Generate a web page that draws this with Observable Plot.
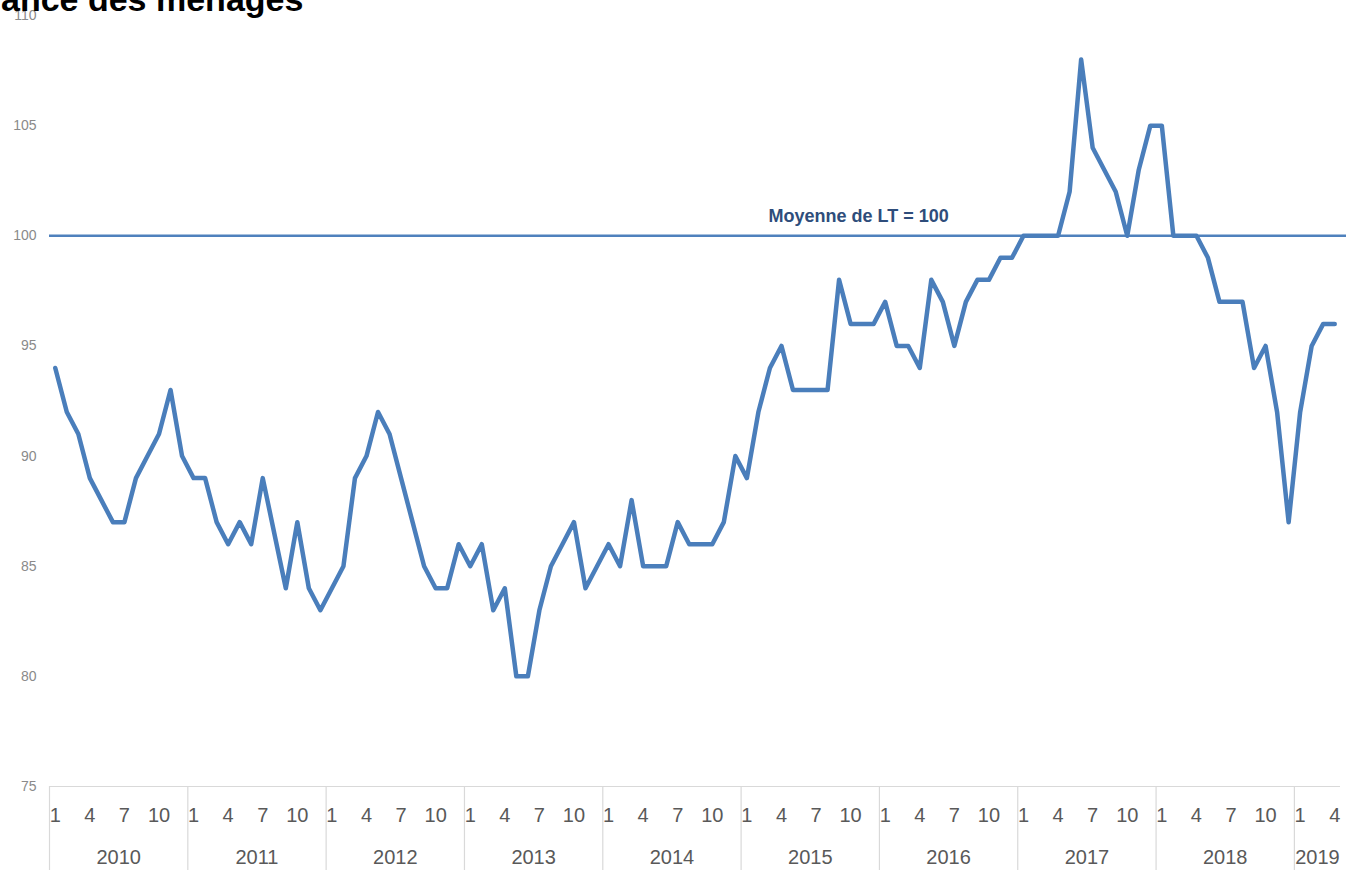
<!DOCTYPE html>
<html><head><meta charset="utf-8">
<script src="https://cdn.jsdelivr.net/npm/d3@7"></script>
<script src="https://cdn.jsdelivr.net/npm/@observablehq/plot@0.6"></script>
<style>
body{margin:0;background:#fff;overflow:hidden}
#wrap{position:relative;width:1346px;height:870px;overflow:hidden}
#title{position:absolute;left:1px;top:-18px;font:bold 34px "Liberation Sans",Arial,sans-serif;color:#000;line-height:34px;white-space:nowrap}
</style></head><body>
<div id="wrap"><div id="chart"></div><div id="title">ance des ménages</div></div>
<script>
// ---- data ----
const years = [2010, 2011, 2012, 2013, 2014, 2015, 2016, 2017, 2018, 2019];
const v2010 = [94, 92, 91, 89, 88, 87, 87, 89, 90, 91, 93, 90];
const v2011 = [89, 89, 87, 86, 87, 86, 89, 86.5, 84, 87, 84, 83];
const v2012 = [84, 85, 89, 90, 92, 91, 89, 87, 85, 84, 84, 86];
const v2013 = [85, 86, 83, 84, 80, 80, 83, 85, 86, 87, 84, 85];
const v2014 = [86, 85, 88, 85, 85, 85, 87, 86, 86, 86, 87, 90];
const v2015 = [89, 92, 94, 95, 93, 93, 93, 93, 98, 96, 96, 96];
const v2016 = [97, 95, 95, 94, 98, 97, 95, 97, 98, 98, 99, 99];
const v2017 = [100, 100, 100, 100, 102, 108, 104, 103, 102, 100, 103, 105];
const v2018 = [105, 100, 100, 100, 99, 97, 97, 97, 94, 95, 92, 87];
const v2019 = [92, 95, 96, 96];
const monthTickLabels = [1, 4, 7, 10];
const yTicks = [75, 80, 85, 90, 95, 100, 105, 110];
const average = 100;
const averageLabel = "Moyenne de LT = 100";
const titleText = "ance des ménages";

// ---- build tables ----
const series = [v2010, v2011, v2012, v2013, v2014, v2015, v2016, v2017, v2018, v2019];
const data = [];
series.forEach((vals, k) => vals.forEach((v, m) => data.push({i: k * 12 + m, year: years[k], month: m + 1, value: v})));
const monthTicks = [];
series.forEach((vals, k) => monthTickLabels.forEach(m => { if (m <= vals.length) monthTicks.push({i: k * 12 + m - 1, label: String(m)}); }));
const yearLabels = series.map((vals, k) => ({i: k * 12 + (vals.length - 1) / 2, label: String(years[k])}));
const boundaries = years.map((y, k) => k * 12 - 0.5);
const n = data.length;

const font = "'Liberation Sans',Arial,sans-serif";
const blue = "#4a7ebb";

const chart = Plot.plot({
  width: 1346, height: 870,
  marginTop: 15, marginBottom: 84, marginLeft: 49, marginRight: 6,
  style: {fontFamily: font, background: "#fff"},
  x: {domain: [-0.5, n - 0.5], axis: null},
  y: {domain: [75, 110], axis: null},
  marks: [
    Plot.axisY(yTicks, {anchor: "left", tickSize: 0, tickPadding: 13, fontSize: 14, fill: "#8a8a8a", label: null}),
    Plot.ruleY([75], {stroke: "#d9d9d9", strokeWidth: 1.2}),
    Plot.axisX(boundaries, {anchor: "bottom", tickSize: 84, stroke: "#d9d9d9", strokeWidth: 1.2, tickFormat: () => "", label: null}),
    Plot.text(monthTicks, {x: "i", text: "label", frameAnchor: "bottom", lineAnchor: "middle", dy: 29, fontSize: 20, fill: "#595959"}),
    Plot.text(yearLabels, {x: "i", text: "label", frameAnchor: "bottom", lineAnchor: "middle", dy: 71, fontSize: 20, fill: "#595959"}),
    Plot.ruleY([average], {stroke: "#4f81bd", strokeWidth: 2.5, insetRight: -6}),
    Plot.text([averageLabel], {x: 69.7, y: average, dy: -20, text: d => d, fontSize: 18, fontWeight: "bold", fill: "#2e4d7b"}),
    Plot.line(data, {x: "i", y: "value", stroke: blue, strokeWidth: 4.5})
  ]
});
document.getElementById("chart").append(chart);
document.getElementById("title").textContent = titleText;
</script>
</body></html>
